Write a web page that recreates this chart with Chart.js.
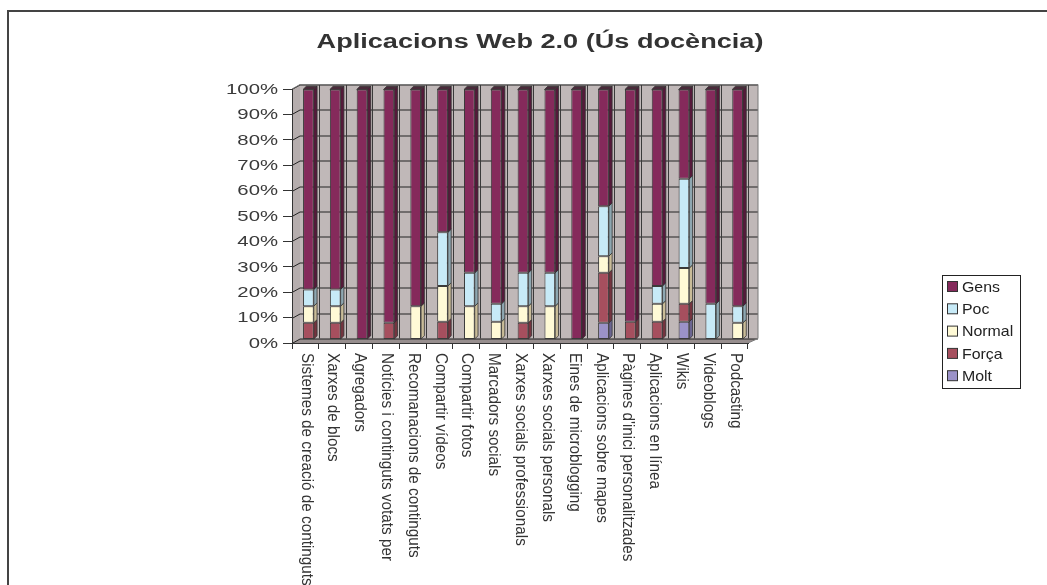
<!DOCTYPE html>
<html>
<head>
<meta charset="utf-8">
<script src="https://cdn.jsdelivr.net/npm/chart.js@4.4.1/dist/chart.umd.min.js"></script>
<style>
html,body{margin:0;padding:0;background:#fff;}
#wrap{width:1047px;height:585px;}
</style>
</head>
<body>
<div id="wrap"><canvas id="c" width="1047" height="585"></canvas></div>
<script>
const titleText = 'Aplicacions Web 2.0 (Ús docència)';
const categories = [
  'Sistemes de creació de continguts',
  'Xarxes de blocs',
  'Agregadors',
  'Notícies i continguts votats per',
  'Recomanacions de continguts',
  'Compartir vídeos',
  'Compartir fotos',
  'Marcadors socials',
  'Xarxes socials professionals',
  'Xarxes socials personals',
  'Eines de microblogging',
  'Aplicacions sobre mapes',
  "Pàgines d'inici personalitzades",
  'Aplicacions en línea',
  'Wikis',
  'Videoblogs',
  'Podcasting'
];
const seriesNames = ['Molt', 'Força', 'Normal', 'Poc', 'Gens'];
const molt   = [0, 0, 0, 0, 0, 0, 0, 0, 0, 0, 0, 6.67, 0, 0, 7.14, 0, 0];
const forca  = [6.67, 6.67, 0, 6.67, 0, 7.14, 0, 0, 6.67, 0, 0, 20, 7.14, 7.14, 7.14, 0, 0];
const normal = [6.67, 6.67, 0, 0, 13.33, 14.29, 13.33, 7.14, 6.67, 13.33, 0, 6.67, 0, 7.14, 14.29, 0, 6.67];
const poc    = [6.67, 6.67, 0, 0, 0, 21.43, 13.33, 7.14, 13.33, 13.33, 0, 20, 0, 7.14, 35.71, 14.29, 6.67];
const gens   = [80, 80, 100, 93.33, 86.67, 57.14, 73.33, 85.71, 73.33, 73.33, 100, 46.67, 92.86, 78.57, 35.71, 85.71, 86.67];
const yTickLabels = ['0%','10%','20%','30%','40%','50%','60%','70%','80%','90%','100%'];

const frontColors = ['#9B92C8', '#A64F5E', '#FFFAD6', '#C7EAF7', '#852A5B'];
const sideColors  = ['#6B6591', '#74343F', '#C9BC98', '#8EA7B1', '#55193A'];
const topColor = '#4A2A3A';

const seriesValues = [molt, forca, normal, poc, gens];

const WALL_DY = -4.5;

const threeD = {
  id: 'threeD',
  beforeDraw(chart) {
    const ctx = chart.ctx;
    const a = chart.chartArea;
    const ys = chart.scales.y, xs = chart.scales.x;
    ctx.save();
    ctx.fillStyle = '#fff';
    ctx.fillRect(0, 0, chart.width, chart.height);
    // outer frame
    ctx.strokeStyle = '#444';
    ctx.lineWidth = 2;
    ctx.beginPath();
    ctx.moveTo(8, chart.height); ctx.lineTo(8, 11); ctx.lineTo(chart.width, 11);
    ctx.stroke();
    const backL = a.left + 8, backR = a.right + 10;
    const backT = a.top + WALL_DY, backB = a.bottom + WALL_DY;
    // back wall
    ctx.fillStyle = '#C0B8B8';
    ctx.fillRect(backL, backT, backR - backL, backB - backT);
    // left wall
    ctx.fillStyle = '#B5ADAD';
    ctx.beginPath();
    ctx.moveTo(a.left, a.top); ctx.lineTo(backL, backT); ctx.lineTo(backL, backB); ctx.lineTo(a.left, a.bottom);
    ctx.closePath(); ctx.fill();
    // floor
    ctx.fillStyle = '#978E8E';
    ctx.beginPath();
    ctx.moveTo(a.left, a.bottom); ctx.lineTo(backL, backB); ctx.lineTo(backR, backB); ctx.lineTo(a.right, a.bottom);
    ctx.closePath(); ctx.fill();
    // horizontal gridlines
    ctx.strokeStyle = '#222';
    ctx.lineWidth = 1;
    ys.ticks.forEach((t) => {
      const y = Math.round(ys.getPixelForValue(t.value)) + 0.5;
      ctx.beginPath();
      ctx.moveTo(a.left, y);
      ctx.lineTo(backL, y + WALL_DY);
      ctx.lineTo(backR, y + WALL_DY);
      ctx.stroke();
    });
    // vertical gridlines on back wall (category boundaries)
    ctx.strokeStyle = '#3a3a3a';
    const step = xs.getPixelForValue(1) - xs.getPixelForValue(0);
    for (let i = 0; i <= categories.length; i++) {
      const x = Math.round(xs.getPixelForValue(0) - step / 2 + i * step) + 0.5;
      if (x < backL) continue;
      ctx.beginPath();
      ctx.moveTo(x, backT); ctx.lineTo(x, backB);
      ctx.stroke();
    }
    // wall outlines
    ctx.strokeStyle = '#7a7a7a';
    ctx.beginPath();
    ctx.moveTo(a.left, a.top); ctx.lineTo(backL, backT); ctx.lineTo(backR, backT); ctx.lineTo(backR, backB); ctx.lineTo(a.right, a.bottom);
    ctx.stroke();
    ctx.restore();
  },
  beforeDatasetsDraw(chart) {
    const a = chart.chartArea;
    // bars sit slightly back in the 3D box: shift right and compress vertically
    const yTop = a.top + 0.5, yBot = a.bottom - 3.5;
    const k = (yBot - yTop) / (a.bottom - a.top);
    const b = yBot - k * a.bottom;
    chart.ctx.save();
    chart.ctx.transform(1, 0, 0, k, 3, b);
  },
  afterDatasetsDraw(chart) {
    const ctx = chart.ctx;
    const d = 3.3;
    for (let i = 0; i < categories.length; i++) {
      let topJ = -1;
      for (let j = 0; j < seriesValues.length; j++) if (seriesValues[j][i] > 0) topJ = j;
      for (let j = 0; j < seriesValues.length; j++) {
        if (!(seriesValues[j][i] > 0)) continue;
        const el = chart.getDatasetMeta(j).data[i];
        const p = el.getProps(['x', 'y', 'base', 'width'], true);
        const xl = p.x - p.width / 2, xr = p.x + p.width / 2;
        const top = Math.min(p.y, p.base), bot = Math.max(p.y, p.base);
        ctx.fillStyle = sideColors[j];
        ctx.strokeStyle = '#333';
        ctx.lineWidth = 0.8;
        ctx.beginPath();
        ctx.moveTo(xr, top); ctx.lineTo(xr + d, top - d); ctx.lineTo(xr + d, bot - d); ctx.lineTo(xr, bot);
        ctx.closePath(); ctx.fill(); ctx.stroke();
        if (j === topJ) {
          ctx.fillStyle = topColor;
          ctx.beginPath();
          ctx.moveTo(xl, top); ctx.lineTo(xl + d, top - d); ctx.lineTo(xr + d, top - d); ctx.lineTo(xr, top);
          ctx.closePath(); ctx.fill(); ctx.stroke();
        }
      }
    }
    ctx.restore();
  },
  afterDraw(chart) {
    const ctx = chart.ctx;
    const ys = chart.scales.y, xs = chart.scales.x;
    ctx.save();
    ctx.fillStyle = '#333';
    // title
    ctx.font = 'bold 19.5px "Liberation Sans", Arial, sans-serif';
    ctx.textBaseline = 'alphabetic';
    ctx.textAlign = 'center';
    ctx.save(); ctx.translate(540, 48); ctx.scale(1.39, 1); ctx.fillText(titleText, 0, 0); ctx.restore();
    // y labels
    ctx.fillStyle = '#3a3a3a';
    ctx.font = '14px "Liberation Sans", Arial, sans-serif';
    ctx.textAlign = 'right';
    ctx.textBaseline = 'middle';
    ys.ticks.forEach((t, i) => {
      const y = ys.getPixelForValue(t.value);
      ctx.save(); ctx.translate(278, y + 1); ctx.scale(1.45, 1); ctx.fillText(yTickLabels[i], 0, 0); ctx.restore();
    });
    // x labels (rotated clockwise)
    ctx.fillStyle = '#333';
    ctx.font = '16px "Liberation Sans", Arial, sans-serif';
    ctx.textAlign = 'left';
    ctx.textBaseline = 'middle';
    categories.forEach((c, i) => {
      const x = xs.getPixelForValue(i);
      ctx.save(); ctx.translate(x + 0.5, 353); ctx.rotate(Math.PI / 2); ctx.scale(0.955, 1); ctx.fillText(c, 0, 0); ctx.restore();
    });
    // legend
    const lx = 942, ly = 275, lw = 78, lh = 113;
    ctx.strokeStyle = '#222'; ctx.lineWidth = 1;
    ctx.strokeRect(lx + 0.5, ly + 0.5, lw, lh);
    ctx.font = '15px "Liberation Sans", Arial, sans-serif';
    ctx.textAlign = 'left'; ctx.textBaseline = 'middle';
    for (let k = 0; k < seriesNames.length; k++) {
      const j = seriesNames.length - 1 - k;
      const cy = ly + 11.5 + k * 22.3;
      ctx.fillStyle = frontColors[j];
      ctx.fillRect(lx + 5.5, cy - 5, 10, 10);
      ctx.strokeStyle = '#333';
      ctx.strokeRect(lx + 5.5, cy - 5, 10, 10);
      ctx.fillStyle = '#222';
      ctx.save(); ctx.translate(lx + 20, cy + 1); ctx.scale(1.06, 1); ctx.fillText(seriesNames[j], 0, 0); ctx.restore();
    }
    ctx.restore();
  }
};

const datasets = seriesNames.map((n, j) => ({
  label: n,
  data: seriesValues[j],
  backgroundColor: frontColors[j],
  borderColor: '#3a3a3a',
  borderWidth: 1,
  borderSkipped: false,
  barPercentage: 0.8,
  categoryPercentage: 0.5,
  clip: false
}));

new Chart(document.getElementById('c'), {
  type: 'bar',
  data: { labels: categories, datasets },
  options: {
    responsive: false,
    animation: false,
    devicePixelRatio: 1,
    layout: { padding: { left: 0, top: 89, right: 299, bottom: 236 } },
    plugins: { legend: { display: false }, title: { display: false }, tooltip: { enabled: false } },
    scales: {
      x: {
        stacked: true,
        offset: true,
        grid: { offset: true, drawOnChartArea: false, drawTicks: true, tickLength: 6, color: '#333' },
        border: { display: true, color: '#333' },
        ticks: { display: false },
        afterFit: s => { s.height = 6; }
      },
      y: {
        stacked: true,
        min: 0, max: 100,
        ticks: { display: false, stepSize: 10 },
        grid: { drawOnChartArea: false, drawTicks: true, tickLength: 9, color: '#333' },
        border: { display: true, color: '#333' },
        afterFit: s => { s.width = 292; }
      }
    }
  },
  plugins: [threeD]
});
</script>
</body>
</html>
